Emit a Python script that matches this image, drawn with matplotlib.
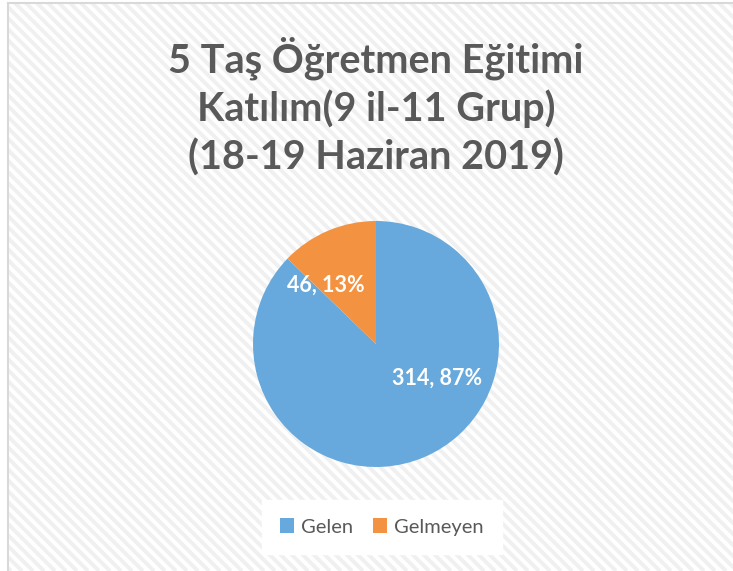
import matplotlib.pyplot as plt
from matplotlib.collections import LineCollection
from matplotlib.patches import Rectangle

plt.rcParams['font.family'] = ['Lato', 'DejaVu Sans']

labels = ["Gelen", "Gelmeyen"]
values = [314, 46]
colors = ["#67a9dc", "#f39241"]
title = "5 Taş Öğretmen Eğitimi\nKatılım(9 il-11 Grup)\n(18-19 Haziran 2019)"

W, H = 733, 571
fig = plt.figure(figsize=(W / 100, H / 100), dpi=100)

# chart area: white with faint diagonal stripes and a thin grey border
area = Rectangle((8, 0), W, H - 3, transform=None, facecolor="white",
                 edgecolor="none", zorder=-6)
fig.add_artist(area)
segs = [[(c, H), (c + H, 0)] for c in range(-H, W + 20, 11)]
stripes = LineCollection(segs, colors="#f0f0f0", linewidths=2.8, transform=None, zorder=-5)
stripes.set_clip_path(area)
fig.add_artist(stripes)
fig.add_artist(plt.Line2D([8, 8], [0, H - 3], transform=None, color="#d9d9d9", lw=1.5, zorder=-4))
fig.add_artist(plt.Line2D([8, W], [H - 3, H - 3], transform=None, color="#d9d9d9", lw=1.5, zorder=-4))

fig.text(0.513, 1 - 36 / H, title, ha="center", va="top", fontsize=28.5,
         fontweight="bold", color="#595959", linespacing=1.32)

ax = fig.add_axes([253 / W, 1 - 467 / H, 246 / W, 246 / H])
total = sum(values)
wedges, _ = ax.pie(values, colors=colors, startangle=90, counterclock=False,
                   wedgeprops=dict(linewidth=0))
ax.set_xlim(-1, 1)
ax.set_ylim(-1, 1)
ax.set_aspect("equal")

lbl_pos = [(0.50, -0.28), (-0.41, 0.48)]
for v, (x, y) in zip(values, lbl_pos):
    ax.text(x, y, f"{v}, {round(100 * v / total)}%", ha="center", va="center",
            fontsize=15.5, fontweight="bold", color="white")

leg = fig.legend(wedges, labels, loc="center", bbox_to_anchor=(382 / W, 1 - 527 / H),
                 ncol=2, frameon=True, fontsize=14.5, handlelength=0.7, handleheight=0.7,
                 columnspacing=1.0, handletextpad=0.35, borderpad=0.9, borderaxespad=0)
leg.get_frame().set_facecolor("white")
leg.get_frame().set_edgecolor("white")
leg.get_frame().set_alpha(1)
leg.get_frame().set_boxstyle("square", pad=0.0)
for t in leg.get_texts():
    t.set_color("#595959")

fig.savefig("out.png", dpi=100)
